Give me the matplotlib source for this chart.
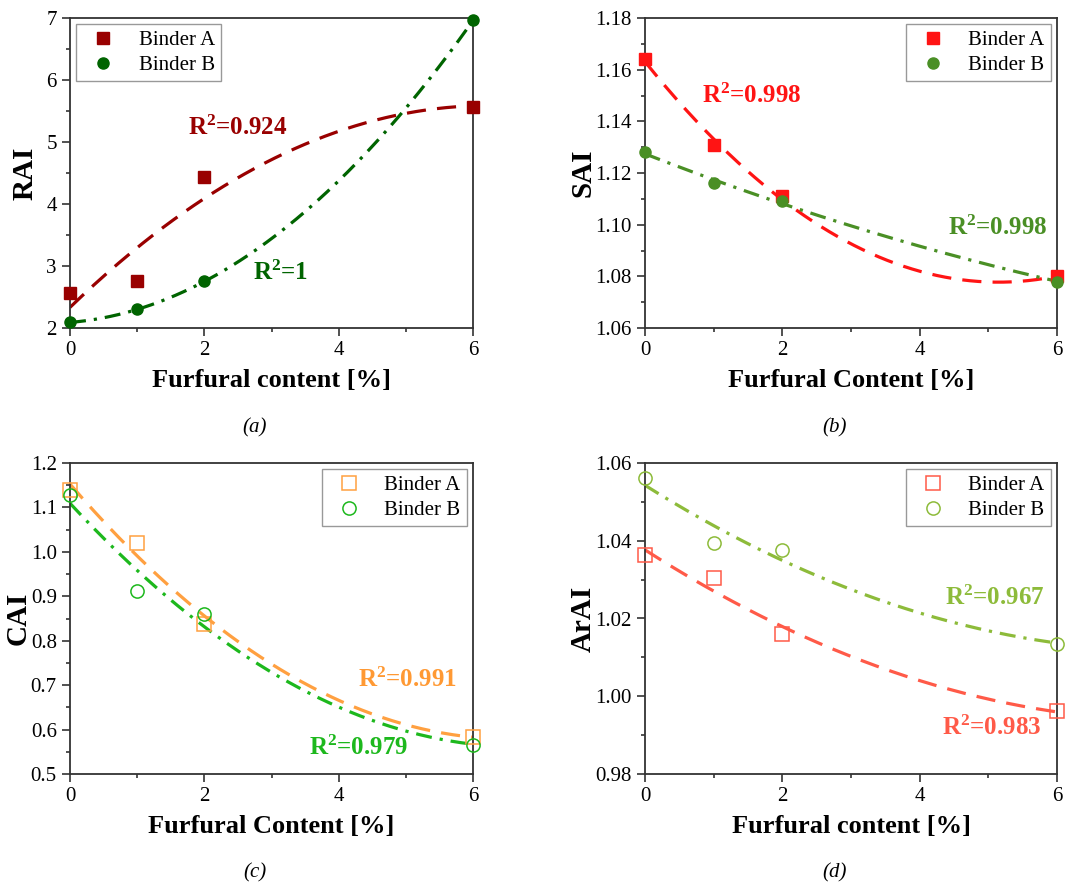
import matplotlib
matplotlib.use("Agg")
import matplotlib.pyplot as plt
import numpy as np
from matplotlib.ticker import AutoMinorLocator, MultipleLocator

plt.rcParams['font.family'] = ['Liberation Serif', 'DejaVu Serif']
plt.rcParams['mathtext.fontset'] = 'custom'
plt.rcParams['mathtext.rm'] = 'Liberation Serif'
plt.rcParams['mathtext.bf'] = 'Liberation Serif:bold'
plt.rcParams['mathtext.it'] = 'Liberation Serif:italic'

# furfural content (%)
furfural = [0, 1, 2, 6]

# (a) RAI
rai_a = [2.56, 2.75, 4.43, 5.56]
rai_b = [2.09, 2.30, 2.75, 6.96]
# (b) SAI
sai_a = [1.164, 1.131, 1.111, 1.080]
sai_b = [1.128, 1.116, 1.109, 1.078]
# (c) CAI
cai_a = [1.140, 1.021, 0.837, 0.584]
cai_b = [1.129, 0.911, 0.861, 0.565]
# (d) ArAI
arai_a = [1.0363, 1.0303, 1.0159, 0.9961]
arai_b = [1.0561, 1.0395, 1.0377, 1.0135]

r2_labels = {
    'a': ['0.924', '1'],
    'b': ['0.998', '0.998'],
    'c': ['0.991', '0.979'],
    'd': ['0.983', '0.967'],
}

fig = plt.figure(figsize=(10.69, 8.90), dpi=100)

W, H = 1069, 890
def box(l, t, r, b):
    return [l / W, 1 - b / H, (r - l) / W, (b - t) / H]

panels = [
    dict(key='a', rect=box(70, 18, 473, 328), ya=rai_a, yb=rai_b, ylabel='RAI',
         xlabel='Furfural content [%]', ylim=(2, 7), ystep=1, fmt='%d',
         ca='#990000', cb='#006400', filled=True, ylx=-0.112,
         ta=(2.5, 5.23), tb=(3.13, 2.89), loc='upper left', cap=(255, 428)),
    dict(key='b', rect=box(645, 18, 1057, 328), ya=sai_a, yb=sai_b, ylabel='SAI',
         xlabel='Furfural Content [%]', ylim=(1.06, 1.18), ystep=0.02, fmt='%.2f',
         ca='#FF1414', cb='#4A8F25', filled=True, ylx=-0.150,
         ta=(1.56, 1.150), tb=(5.14, 1.0987), loc='upper right', cap=(835, 428)),
    dict(key='c', rect=box(70, 463, 473, 774), ya=cai_a, yb=cai_b, ylabel='CAI',
         xlabel='Furfural Content [%]', ylim=(0.5, 1.2), ystep=0.1, fmt='%.1f',
         ca='#FFA040', cb='#1DB81D', filled=False, ylx=-0.129,
         ta=(5.02, 0.712), tb=(4.29, 0.559), loc='upper right', cap=(255, 873)),
    dict(key='d', rect=box(645, 463, 1057, 774), ya=arai_a, yb=arai_b, ylabel='ArAI',
         xlabel='Furfural content [%]', ylim=(0.98, 1.06), ystep=0.02, fmt='%.2f',
         ca='#FF5A48', cb='#8DBB3A', filled=False, ylx=-0.150,
         ta=(5.05, 0.9918), tb=(5.10, 1.0253), loc='upper right', cap=(835, 873)),
]

xfit = np.linspace(0, 6, 200)
spine_col = '#333333'

for p in panels:
    ax = fig.add_axes(p['rect'])
    for ys, col, mk, ls, lab in [(p['ya'], p['ca'], 's', (0, (6, 3.5)), 'Binder A'),
                                 (p['yb'], p['cb'], 'o', (0, (5, 2.5, 1, 2.5)), 'Binder B')]:
        coef = np.polyfit(furfural, ys, 2)
        ax.plot(xfit, np.polyval(coef, xfit), color=col, lw=2.3, linestyle=ls, zorder=2)
        if p['filled']:
            ax.plot(furfural, ys, mk, color=col, ms=8, label=lab, zorder=3, clip_on=False)
        else:
            ax.plot(furfural, ys, mk, mfc='none', mec=col, mew=1.1, ms=9.5,
                    label=lab, zorder=3, clip_on=False)

    tcolA = '#FF9933' if p['key'] == 'c' else p['ca']
    ax.text(p['ta'][0], p['ta'][1], r'$\mathbf{R^2}$=' + r2_labels[p['key']][0],
            color=tcolA, fontsize=18, fontweight='bold', ha='center', va='center')
    ax.text(p['tb'][0], p['tb'][1], r'$\mathbf{R^2}$=' + r2_labels[p['key']][1],
            color=p['cb'], fontsize=18, fontweight='bold', ha='center', va='center')

    ax.set_xlim(0, 6)
    ax.set_ylim(*p['ylim'])
    ax.xaxis.set_major_locator(MultipleLocator(2))
    ax.yaxis.set_major_locator(MultipleLocator(p['ystep']))
    ax.yaxis.set_major_formatter(plt.FormatStrFormatter(p['fmt']))
    ax.xaxis.set_minor_locator(AutoMinorLocator(2))
    ax.yaxis.set_minor_locator(AutoMinorLocator(2))
    ax.tick_params(which='both', direction='out', top=False, right=False,
                   color=spine_col, labelsize=15, width=1.2)
    ax.tick_params(which='major', length=6)
    ax.tick_params(which='minor', length=3)
    for s in ax.spines.values():
        s.set_color(spine_col)
        s.set_linewidth(1.3)

    ax.set_xlabel(p['xlabel'], fontsize=19, fontweight='bold', labelpad=6)
    ax.set_ylabel(p['ylabel'], fontsize=21, fontweight='bold', va='center')
    ax.yaxis.set_label_coords(p['ylx'], 0.5)

    leg = ax.legend(loc=p['loc'], fontsize=15, frameon=True, fancybox=False,
                    edgecolor='#999999', framealpha=1, handletextpad=0.7,
                    borderpad=0.3, labelspacing=0.25, handlelength=2.0,
                    borderaxespad=0.3)
    leg.get_frame().set_linewidth(1.0)

    fig.text(p['cap'][0] / W, 1 - p['cap'][1] / H, '(' + p['key'] + ')',
             fontsize=15, style='italic', ha='center', va='center')

fig.savefig('out.png', dpi=100)
